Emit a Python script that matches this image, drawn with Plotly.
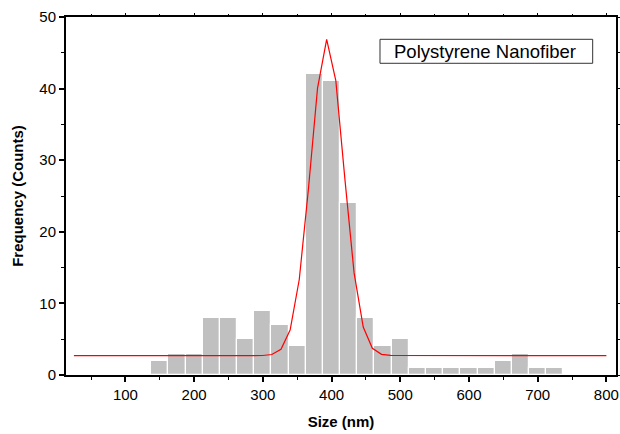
import plotly.graph_objects as go

# Histogram bins (bin centres, nm) and counts
bin_centers = [150, 175, 200, 225, 250, 275, 300, 325, 350, 375, 400, 425, 450,
               475, 500, 525, 550, 575, 600, 625, 650, 675, 700, 725]
counts = [2, 3, 3, 8, 8, 5, 9, 7, 4, 42, 41, 24, 8, 4, 5, 1, 1, 1, 1, 1, 2, 3, 1, 1]

# Gaussian fit curve
fit_x = [25, 299.8, 313.1, 326.4, 339.7, 353.0, 366.3, 379.6, 392.9, 406.2, 419.5,
         432.8, 446.1, 459.4, 472.7, 486.0, 800]
fit_y = [2.7, 2.72, 2.86, 3.59, 6.28, 13.34, 25.95, 40.08, 46.89, 41.11, 27.28,
         14.26, 6.70, 3.72, 2.89, 2.73, 2.7]

x_range = [13.5, 814]
y_range = [0, 50]
x_ticks = [100, 200, 300, 400, 500, 600, 700, 800]
y_ticks = [0, 10, 20, 30, 40, 50]

FONT = "Liberation Sans, Arial, sans-serif"

fig = go.Figure()
fig.add_trace(go.Bar(x=bin_centers, y=counts, width=25,
                     marker=dict(color="#C0C0C0", line=dict(color="white", width=1.2)),
                     showlegend=False))
fig.add_trace(go.Scatter(x=fit_x, y=fit_y, mode="lines",
                         line=dict(color="#FF0000", width=1.2), showlegend=False))

fig.update_layout(
    width=620, height=434,
    margin=dict(l=66, r=4, t=17, b=59, autoexpand=False),
    paper_bgcolor="white", plot_bgcolor="white",
    bargap=0,
    font=dict(family=FONT, color="black", size=15),
    xaxis=dict(range=x_range, tickvals=x_ticks, ticks="outside", ticklen=5, tickwidth=1.5,
               tickcolor="black", showline=True, linecolor="black", linewidth=2,
               showgrid=False, zeroline=False, automargin=False,
               minor=dict(dtick=50, tick0=0, ticks="outside", ticklen=3, tickwidth=1.2,
                          tickcolor="black"),
               tickfont=dict(size=15),
               title=dict(text="<b>Size (nm)</b>", font=dict(size=15), standoff=14)),
    yaxis=dict(range=y_range, tickvals=y_ticks, ticks="outside", ticklen=5, tickwidth=1.5,
               tickcolor="black", showline=True, linecolor="black", linewidth=2,
               showgrid=False, zeroline=False, automargin=False,
               minor=dict(dtick=5, tick0=0, ticks="outside", ticklen=3, tickwidth=1.2,
                          tickcolor="black"),
               tickfont=dict(size=15),
               title=dict(text="<b>Frequency (Counts)</b>", font=dict(size=15), standoff=12)),
    xaxis2=dict(overlaying="x", side="top", range=x_range, tickvals=x_ticks,
                ticks="outside", ticklen=2, tickcolor="black", showticklabels=False,
                showline=True, linecolor="black", linewidth=1.5, showgrid=False,
                zeroline=False, automargin=False,
                minor=dict(dtick=50, tick0=0, ticks="outside", ticklen=1, tickcolor="black")),
    yaxis2=dict(overlaying="y", side="right", range=y_range, tickvals=y_ticks,
                ticks="outside", ticklen=2, tickcolor="black", showticklabels=False,
                showline=True, linecolor="black", linewidth=1.5, showgrid=False,
                zeroline=False, automargin=False,
                minor=dict(dtick=5, tick0=0, ticks="outside", ticklen=2, tickcolor="black")),
)

# invisible trace to anchor top/right axes
fig.add_trace(go.Scatter(x=[x_range[0]], y=[y_range[0]], xaxis="x2", yaxis="y2",
                         mode="markers", marker=dict(opacity=0), showlegend=False,
                         hoverinfo="skip"))

fig.add_shape(type="rect", xref="paper", yref="paper",
              x0=0.5709, x1=0.9576, y0=0.8707, y1=0.9377,
              line=dict(color="#333333", width=1), fillcolor="white", layer="above")
fig.add_annotation(text="Polystyrene Nanofiber", xref="paper", yref="paper",
                   x=0.7627, y=0.904, showarrow=False, xanchor="center", yanchor="middle",
                   font=dict(size=18.5, family=FONT, color="black"))

fig.write_html("out.html", config={"displayModeBar": False},
               post_script="document.body.style.margin='0px';document.body.style.overflow='hidden';")
